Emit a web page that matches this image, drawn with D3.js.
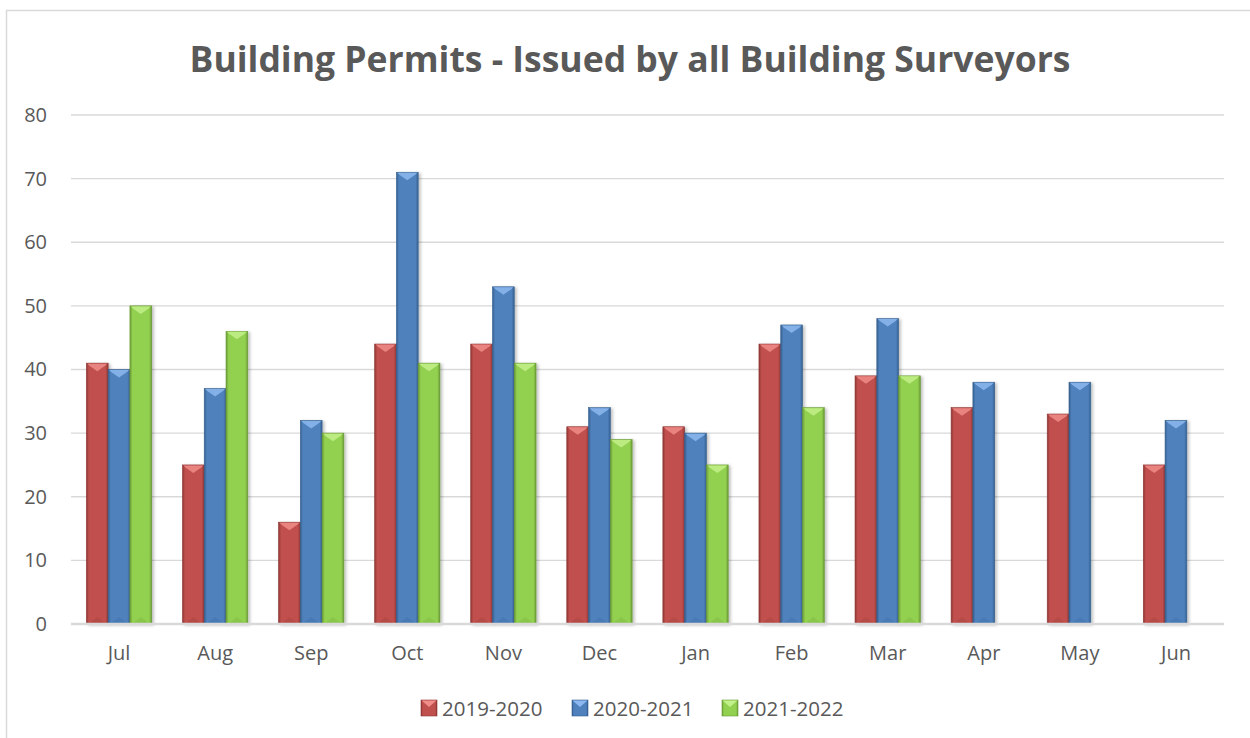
<!DOCTYPE html>
<html><head><meta charset="utf-8">
<script src="https://cdn.jsdelivr.net/npm/d3@7"></script>
<style>body{margin:0;background:#fff;}svg{display:block;font-family:"Open Sans",sans-serif;}</style>
</head><body><svg id="c" width="1250" height="738"></svg>
<script>
const months = ["Jul","Aug","Sep","Oct","Nov","Dec","Jan","Feb","Mar","Apr","May","Jun"];
const seriesNames = ["2019-2020","2020-2021","2021-2022"];
const s2019 = [41,25,16,44,44,31,31,44,39,34,33,25];
const s2020 = [40,37,32,71,53,34,30,47,48,38,38,32];
const s2021 = [50,46,30,41,41,29,25,34,39,null,null,null];
const yTicks = [0,10,20,30,40,50,60,70,80];
const colors = ["#C0504D","#4F81BD","#92D050"];
const light = ["#F08C8A","#8DB8F0","#C2F08A"];
const dark = ["#8E3634","#35608F","#6A9A35"];
const title = "Building Permits - Issued by all Building Surveyors";

const svg = d3.select("#c");
const m={l:71,r:1224,t:115,b:624};
const data = [s2019,s2020,s2021];

const defs = svg.append("defs");
colors.forEach((c,i)=>{
  const g = defs.append("linearGradient").attr("id","g"+i).attr("x1","0").attr("x2","1").attr("y1","0").attr("y2","0");
  g.append("stop").attr("offset","0").attr("stop-color",dark[i]);
  g.append("stop").attr("offset","0.12").attr("stop-color",c);
  g.append("stop").attr("offset","0.5").attr("stop-color",c);
  g.append("stop").attr("offset","0.88").attr("stop-color",c);
  g.append("stop").attr("offset","1").attr("stop-color",dark[i]);
});
const f = defs.append("filter").attr("id","sh").attr("x","-20%").attr("y","-5%").attr("width","150%").attr("height","115%");
f.append("feDropShadow").attr("dx",2).attr("dy",1).attr("stdDeviation",1.5).attr("flood-color","#000").attr("flood-opacity",0.25);

// chart border
svg.append("rect").attr("x",6.5).attr("y",10.5).attr("width",1250).attr("height",740).attr("fill","#fff").attr("stroke","#D9D9D9").attr("stroke-width",1.5);

svg.append("text").attr("x",630).attr("y",72).attr("text-anchor","middle").attr("font-size",35.5).attr("font-weight","bold").attr("fill","#595959").text(title);

const x0 = d3.scaleBand().domain(months).range([m.l,m.r]).paddingInner(0.32).paddingOuter(0.16);
const x1 = d3.scaleBand().domain(d3.range(3)).range([0,x0.bandwidth()]);
const y = d3.scaleLinear().domain([0,80]).range([m.b,m.t]);

// gridlines
svg.append("g").selectAll("line").data(yTicks.filter(d=>d>0)).join("line")
  .attr("x1",m.l).attr("x2",m.r).attr("y1",d=>y(d)).attr("y2",d=>y(d)).attr("stroke","#D9D9D9").attr("stroke-width",1.3);

// y axis labels
const ya = svg.append("g").attr("transform",`translate(${m.l},0)`).call(d3.axisLeft(y).tickValues(yTicks).tickSize(0).tickPadding(24));
ya.select(".domain").remove();
ya.selectAll("text").attr("font-size",20).attr("fill","#595959").attr("font-family","Open Sans");

// bars
const bars = [];
months.forEach((mo,j)=>data.forEach((s,i)=>{ if(s[j]!=null) bars.push({m:mo,i,v:s[j]}); }));
const bg = svg.append("g");
const gs = bg.selectAll("g").data(bars).join("g").attr("filter","url(#sh)");
gs.append("rect").attr("x",d=>x0(d.m)+x1(d.i)).attr("width",x1.bandwidth()).attr("y",d=>y(d.v)).attr("height",d=>y(0)-y(d.v))
  .attr("fill",d=>`url(#g${d.i})`).attr("stroke",d=>dark[d.i]).attr("stroke-width",0.6);
gs.append("path").attr("d",d=>{
  const xl=x0(d.m)+x1(d.i), w=x1.bandwidth(), yt=y(d.v);
  return `M${xl+1},${yt+0.5} L${xl+w-1},${yt+0.5} L${xl+w-3},${yt+2.5} L${xl+w/2},${yt+8} L${xl+3},${yt+2.5} Z`;
}).attr("fill",d=>light[d.i]).attr("opacity",0.85);
gs.append("path").attr("d",d=>{
  const xl=x0(d.m)+x1(d.i), w=x1.bandwidth(), yb=y(0);
  return `M${xl+2},${yb} L${xl+w/2},${yb-7} L${xl+w-2},${yb} Z`;
}).attr("fill",d=>dark[d.i]).attr("opacity",0.2);

// zero axis line
svg.append("line").attr("x1",m.l).attr("x2",m.r).attr("y1",y(0)).attr("y2",y(0)).attr("stroke","#D9D9D9").attr("stroke-width",2.5);

// x axis labels
const xa = svg.append("g").attr("transform",`translate(0,${m.b})`).call(d3.axisBottom(x0).tickSize(0).tickPadding(22));
xa.select(".domain").remove();
xa.selectAll("text").attr("font-size",20).attr("fill","#595959").attr("font-family","Open Sans");

// legend
const legX = [421,572,722];
const lg = svg.append("g").selectAll("g").data(seriesNames).join("g").attr("transform",(d,i)=>`translate(${legX[i]},700)`);
lg.append("rect").attr("width",16).attr("height",16).attr("fill",(d,i)=>`url(#g${i})`).attr("stroke",(d,i)=>dark[i]).attr("stroke-width",0.6);
lg.append("path").attr("d","M0.5,0.5 L15.5,0.5 L8,7 Z").attr("fill",(d,i)=>light[i]);
lg.append("text").attr("x",21).attr("y",16).attr("font-size",20.5).attr("fill","#595959").text(d=>d);
</script></body></html>
